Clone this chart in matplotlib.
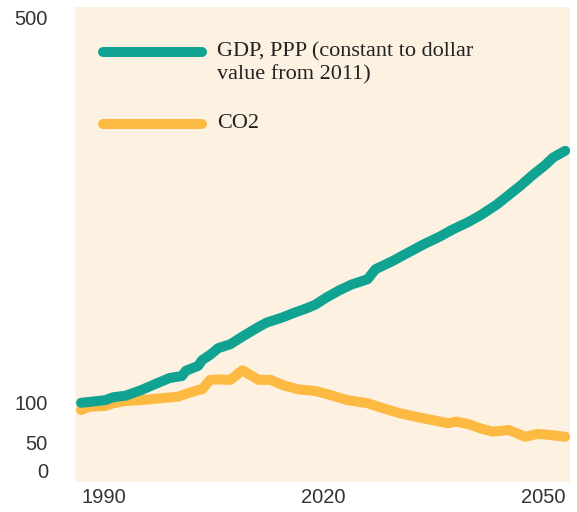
import numpy as np
import matplotlib
matplotlib.use("Agg")
import matplotlib.pyplot as plt

# ---------------- data ----------------
gdp_years = [1990, 1991.5, 1993, 1994, 1995.5, 1997.5, 1999, 2001, 2002.5, 2003,
             2004.5, 2005, 2006, 2007, 2008.5, 2010, 2012, 2013, 2015, 2016.5,
             2018, 2019, 2020.5, 2022, 2023.5, 2025.5, 2026.5, 2028.5, 2030.5, 2032.5,
             2034.5, 2036, 2038, 2039.5, 2041.5, 2043, 2044.5, 2046, 2047.5, 2048.5, 2050]
gdp_values = [99, 100.5, 102, 105, 106.5, 112.5, 118, 125, 127, 132.5,
              137.5, 143.5, 149, 156, 160, 168, 178, 182.5, 188, 193,
              197.5, 201, 209, 216, 222, 227.5, 238, 246, 255, 264,
              272, 279, 287, 294, 305, 315, 325, 336, 346, 354, 361]

co2_years = [1990, 1991, 1993, 1994, 1995.5, 1997.5, 2000, 2002, 2003, 2004.5,
             2005, 2006, 2007, 2008.5, 2010, 2012, 2013.5, 2015, 2017, 2019,
             2021, 2023, 2025.5, 2027.5, 2029.5, 2031.5, 2033.5, 2035.5, 2036.5, 2038,
             2039.5, 2041, 2043, 2044, 2045, 2046.5, 2048, 2050]
co2_values = [90, 94, 95, 98.5, 101, 102, 104, 105.5, 108.5, 112.5,
              113, 123, 123.5, 123, 133, 123, 123, 117.5, 113, 111.5,
              107, 102, 98.5, 92, 86, 81.5, 77.5, 73.5, 75.5, 72.5,
              67, 63, 65, 61, 56.5, 60, 59, 56.5]

x_ticks = [1990, 2020, 2050]
y_ticks = [0, 50, 100, 500]
series_labels = ["GDP, PPP (constant to dollar", "value from 2011)", "CO2"]

# ---------------- style ----------------
GREEN = "#10a391"
ORANGE = "#fdba42"
BG = "#fdf1e1"
TXT = "#333333"

# piecewise-linear y scale matching the reference's uneven tick spacing
_vals = np.array([-200.0, 0.0, 50.0, 100.0, 500.0, 1500.0])
_pix = np.array([-100.0, 12.0, 40.0, 80.0, 465.0, 1427.5])


def fwd(v):
    return np.interp(v, _vals, _pix)


def inv(h):
    return np.interp(h, _pix, _vals)


fig = plt.figure(figsize=(5.77, 5.12), dpi=100)
ax = fig.add_axes([75 / 577, 30 / 512, 495 / 577, 475 / 512])
ax.set_facecolor(BG)
ax.set_yscale("function", functions=(fwd, inv))

ax.plot(co2_years, co2_values, color=ORANGE, lw=7.2, solid_capstyle="round",
        solid_joinstyle="round", zorder=2)
ax.plot(gdp_years, gdp_values, color=GREEN, lw=7.2, solid_capstyle="round",
        solid_joinstyle="round", zorder=3)

ax.set_xlim(1989.25, 2050.6)
ax.set_ylim(-21.4, 510.4)

for s in ax.spines.values():
    s.set_visible(False)

ax.set_xticks(x_ticks)
ax.set_xticklabels([str(t) for t in x_ticks])
ax.set_yticks(y_ticks)
ax.set_yticklabels([str(t) for t in y_ticks])
ax.yaxis.set_minor_locator(matplotlib.ticker.NullLocator())
ax.tick_params(axis="both", length=0, labelsize=14.5, colors=TXT)
ax.tick_params(axis="y", pad=19.5)
ax.tick_params(axis="x", pad=4)
for lab in ax.get_xticklabels() + ax.get_yticklabels():
    lab.set_fontfamily("Liberation Sans")
xl = ax.get_xticklabels()
xl[0].set_ha("left")
xl[-1].set_ha("right")

# ---------------- manual legend ----------------
serif = "Liberation Serif"
ax.plot([0.0566, 0.2566], [0.9053, 0.9053], transform=ax.transAxes, color=GREEN,
        lw=7.2, solid_capstyle="round", zorder=4)
ax.plot([0.0566, 0.2566], [0.7537, 0.7537], transform=ax.transAxes, color=ORANGE,
        lw=7.2, solid_capstyle="round", zorder=4)
ax.text(0.2869, 0.9053, series_labels[0], transform=ax.transAxes, fontsize=16,
        family=serif, color="#222222", va="center", ha="left")
ax.text(0.2869, 0.8568, series_labels[1], transform=ax.transAxes, fontsize=16,
        family=serif, color="#222222", va="center", ha="left")
ax.text(0.2869, 0.7537, series_labels[2], transform=ax.transAxes, fontsize=16,
        family=serif, color="#222222", va="center", ha="left")

fig.savefig("out.png", dpi=100)
